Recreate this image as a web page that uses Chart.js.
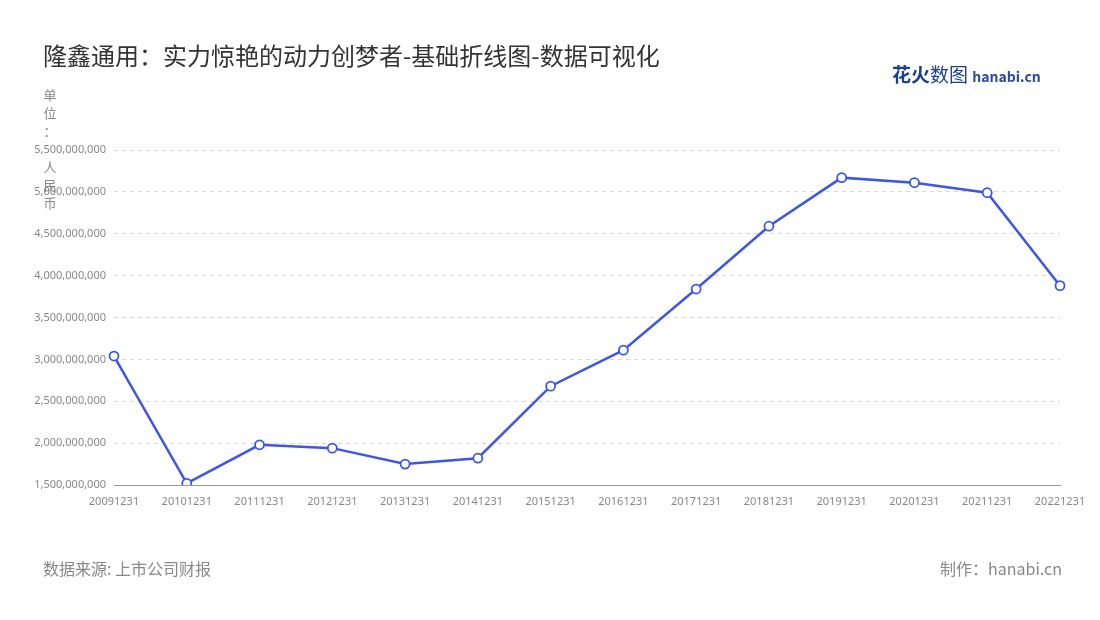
<!DOCTYPE html>
<html><head><meta charset="utf-8">
<script src="https://cdn.jsdelivr.net/npm/chart.js@4"></script>
<style>
body{margin:0;background:#fff;font-family:"Noto Sans CJK SC","Noto Sans",sans-serif;}
#wrap{position:relative;width:1100px;height:620px;}
canvas{position:absolute;left:0;top:0;}
.t{position:absolute;white-space:nowrap;}
.v{position:absolute;font-size:13px;color:#888;line-height:18px;width:14px;text-align:center;}
</style></head><body>
<div id="wrap">
<canvas id="c" width="1100" height="620"></canvas>
<div class="t" style="left:43px;top:37px;font-size:24px;color:#333;">隆鑫通用：实力惊艳的动力创梦者-基础折线图-数据可视化</div>
<div class="t" style="left:892px;top:60px;font-size:19px;font-weight:bold;color:#1d3f8f;">花火<span style="font-weight:normal">数图</span> <span style="font-size:14px;color:#2a4a9a;">hanabi.cn</span></div>
<div class="v" style="left:43px;top:86px;">单<br>位<br>：<br><br>人<br>民<br>币</div>
<div class="t" style="left:43px;top:556px;font-size:16px;color:#888;">数据来源: 上市公司财报</div>
<div class="t" style="left:940px;top:556px;font-size:16px;color:#888;">制作：hanabi.cn</div>
</div>
<script>
const years = ["20091231","20101231","20111231","20121231","20131231","20141231","20151231","20161231","20171231","20181231","20191231","20201231","20211231","20221231"];
const revenue = [3040000000,1520000000,1980000000,1940000000,1750000000,1820000000,2680000000,3110000000,3840000000,4590000000,5170000000,5110000000,4990000000,3880000000];

const tickFont = { size: 11, family: "'Noto Sans', 'Noto Sans CJK SC', sans-serif" };

new Chart(document.getElementById("c"), {
  type: "line",
  data: {
    labels: years,
    datasets: [{
      data: revenue,
      borderColor: "#3d56e8",
      borderWidth: 2.5,
      pointRadius: 4.5,
      pointBackgroundColor: "#fff",
      pointBorderColor: "#3d56e8",
      pointBorderWidth: 1.8,
      tension: 0
    }]
  },
  options: {
    responsive: false,
    animation: false,
    layout: { padding: { left: 0, top: 150, right: 40, bottom: 115 } },
    plugins: { legend: { display: false }, tooltip: { enabled: false } },
    scales: {
      x: {
        afterFit: s => { s.height = 20; },
        grid: { display: false },
        border: { color: "#999" },
        ticks: { color: "#888", font: tickFont, maxRotation: 0, autoSkip: false, padding: 2 }
      },
      y: {
        min: 1500000000, max: 5500000000,
        afterFit: s => { s.width = 114; },
        border: { display: false, dash: [4, 4] },
        grid: { color: "#d8d8d8", drawTicks: false },
        ticks: { stepSize: 500000000, color: "#888", font: tickFont, padding: 8,
          callback: v => v.toLocaleString("en-US") }
      }
    }
  }
});
</script>
</body></html>
